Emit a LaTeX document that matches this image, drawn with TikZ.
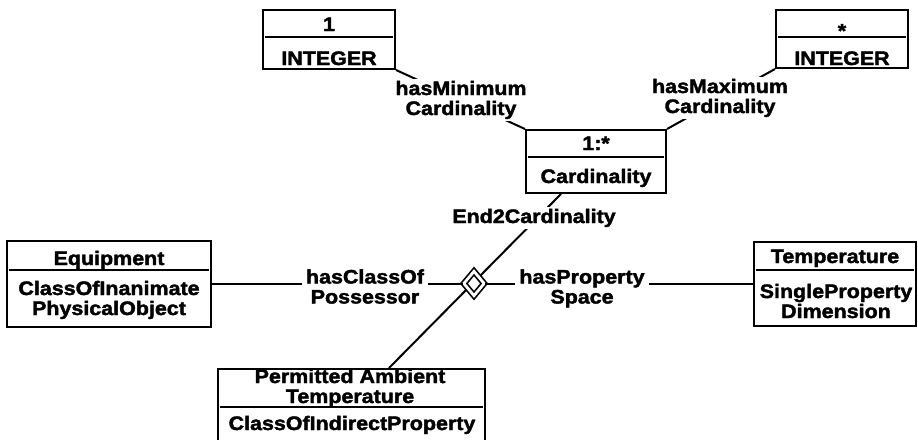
\documentclass[tikz,border=0pt]{standalone}
\usepackage{fontspec}
\newfontfamily\umlfont[FakeStretch=1.1,FakeBold=2]{Liberation Sans}
\usetikzlibrary{shapes.geometric,calc}

\begin{document}
\begin{tikzpicture}[x=1pt,y=-1pt,line width=2pt,
  umlbox/.style={draw,rectangle,inner sep=0pt},
  umltxt/.style={font=\umlfont\bfseries\fontsize{19.5}{20}\selectfont,inner sep=0pt,anchor=base,align=center},
  assoclbl/.style={umltxt,fill=white,inner xsep=4pt,inner ysep=2pt},
  assocdia/.style={draw,diamond,double,double distance=2.8pt,line width=1.7pt,fill=white,minimum width=21pt,minimum height=25pt,inner sep=0pt}]
\useasboundingbox[fill=white](0,0)rectangle(918,439);
% class boxes
\node[umlbox,minimum width=132,minimum height=59](minint)at(329,39.5){};
\node[umlbox,minimum width=132,minimum height=58](maxint)at(842,39){};
\node[umlbox,minimum width=140,minimum height=63](card)at(596,161.5){};
\node[umlbox,minimum width=204,minimum height=86](equip)at(109,283.5){};
\node[umlbox,minimum width=162,minimum height=84](temp)at(835,283.5){};
\node[umlbox,minimum width=267,minimum height=91](perm)at(351.5,414.5){};
% dividers
\draw($(minint.north west)+(3,28)$)--($(minint.north east)+(-3,28)$);
\draw($(maxint.north west)+(3,28)$)--($(maxint.north east)+(-3,28)$);
\draw($(card.north west)+(3,28)$)--($(card.north east)+(-3,28)$);
\draw($(equip.north west)+(3,30)$)--($(equip.north east)+(-3,30)$);
\draw($(temp.north west)+(3,29)$)--($(temp.north east)+(-3,29)$);
\draw($(perm.north west)+(3,39)$)--($(perm.north east)+(-3,39)$);
% box texts (base = last line)
\node[umltxt](minint-val)at(329,31){1};
\node[umltxt](minint-cls)at(329,65){INTEGER};
\node[umltxt](maxint-val)at(842,37.5){*};
\node[umltxt](maxint-cls)at(842,65){INTEGER};
\node[umltxt](card-val)at(596,150){1:*};
\node[umltxt](card-cls)at(596,183){Cardinality};
\node[umltxt](equip-name)at(109,265){Equipment};
\node[umltxt](equip-cls)at(109,315){ClassOfInanimate\\PhysicalObject};
\node[umltxt](temp-name)at(835,263){Temperature};
\node[umltxt](temp-cls)at(836,318){SingleProperty\\Dimension};
\node[umltxt](perm-name)at(350,403){Permitted Ambient\\Temperature};
\node[umltxt](perm-cls)at(352,430){ClassOfIndirectProperty};
% associations
\draw(minint.south east)--(card.north west);
\draw(maxint.south west)--(card.north east);
\draw([xshift=36pt]card.south west)--([xshift=172pt]perm.north west);
\node[assocdia](dia)at(474,283.5){};
\draw(equip)--(dia)--(temp);
\node[assoclbl](minlbl)at(461,115){hasMinimum\\Cardinality};
\node[assoclbl](maxlbl)at(720,113){hasMaximum\\Cardinality};
\node[assoclbl](endlbl)at(534,223){End2Cardinality};
\node[assoclbl](posslbl)at(365,303.5){hasClassOf\\Possessor};
\node[assoclbl](spacelbl)at(582,303.5){hasProperty\\Space};
\end{tikzpicture}
\end{document}
